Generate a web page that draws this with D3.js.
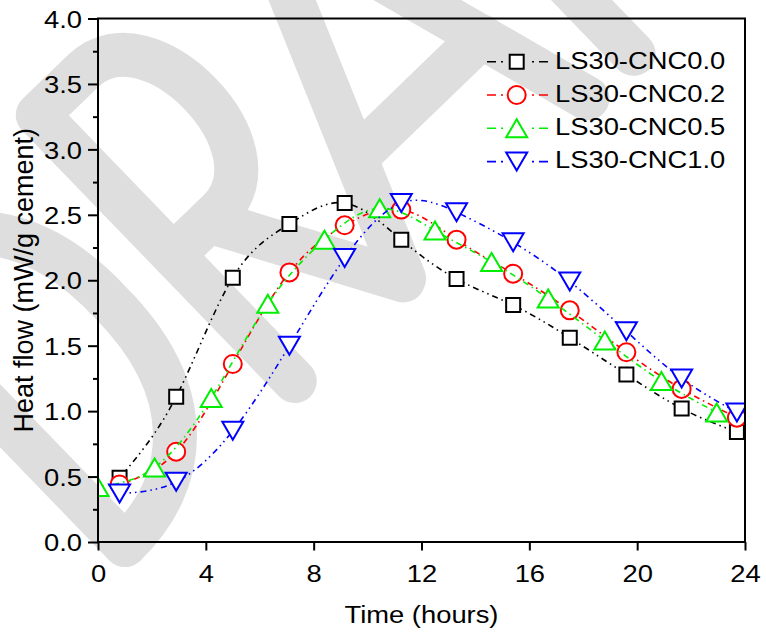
<!DOCTYPE html>
<html><head><meta charset="utf-8">
<script src="https://cdn.jsdelivr.net/npm/d3@7"></script>
<style>body{margin:0;background:#fff}</style>
</head><body>
<svg id="chart" width="766" height="635" xmlns="http://www.w3.org/2000/svg"></svg>
<script>
// ---------- data ----------
const seriesNames = ["LS30-CNC0.0", "LS30-CNC0.2", "LS30-CNC0.5", "LS30-CNC1.0"];
const timeSetA = [0.8, 2.9, 5.0, 7.1, 9.15, 11.25, 13.3, 15.4, 17.5, 19.6, 21.65, 23.7];
const timeSetB = [0.0, 2.1, 4.2, 6.3, 8.4, 10.45, 12.5, 14.6, 16.7, 18.8, 20.9, 22.95];
const heatCNC00 = [0.49, 1.11, 2.02, 2.43, 2.59, 2.31, 2.01, 1.81, 1.56, 1.28, 1.02, 0.84];
const heatCNC02 = [0.44, 0.69, 1.36, 2.06, 2.42, 2.54, 2.31, 2.05, 1.77, 1.45, 1.17, 0.95];
const heatCNC05 = [0.42, 0.57, 1.10, 1.82, 2.31, 2.55, 2.38, 2.14, 1.86, 1.54, 1.23, 0.99];
const heatCNC10 = [0.37, 0.46, 0.85, 1.50, 2.17, 2.59, 2.52, 2.29, 1.99, 1.61, 1.25, 0.99];
const xTicks = [0, 4, 8, 12, 16, 20, 24];
const yTicks = [0.0, 0.5, 1.0, 1.5, 2.0, 2.5, 3.0, 3.5, 4.0];
const yMinorTicks = [0.25, 0.75, 1.25, 1.75, 2.25, 2.75, 3.25, 3.75];
const xTitle = "Time (hours)";
const yTitle = "Heat flow (mW/g cement)";

// ---------- styles ----------
const colors = ["#000000", "#ff0000", "#00ee00", "#0000ff"];
const symbols = ["square", "circle", "triangleUp", "triangleDown"];
const dashes = ["6,4,1.5,4,1.5,4", "6,4,1.5,4", "6,4,1.5,4", "6,4,1.5,4,1.5,4"];
const FONT = "'Liberation Sans', Arial, Helvetica, sans-serif";
const SX = 1.14;

const seriesData = [
  timeSetA.map((t, i) => [t, heatCNC00[i]]),
  timeSetA.map((t, i) => [t, heatCNC02[i]]),
  timeSetB.map((t, i) => [t, heatCNC05[i]]),
  timeSetA.map((t, i) => [t, heatCNC10[i]])
];

const svg = d3.select("#chart");
const L = 98, R = 745, T = 18.5, B = 542;
const x = d3.scaleLinear().domain([0, 24]).range([L, R]);
const y = d3.scaleLinear().domain([0, 4]).range([B, T]);

svg.append("rect").attr("width", 766).attr("height", 635).attr("fill", "#fff");

// ---------- watermark (decorative) ----------
const wm = svg.append("g")
  .attr("transform", "translate(125,545) rotate(-44)")
  .attr("fill", "none").attr("stroke", "#dedede").attr("stroke-width", 44)
  .attr("stroke-linecap", "round").attr("stroke-linejoin", "round");
[
  "M0,0 L0,-370",
  "M0,-370 C90,-370 160,-310 158,-185 C160,-60 90,0 0,0",
  "M236,0 L236,-370 L300,-370 C390,-370 390,-175 300,-175 L236,-175",
  "M285,-175 L384,3",
  "M386,2 L537,-370 L643,0",
  "M450,-118 L610,-118",
  "M707,0 L707,-370 L890,-370",
  "M707,-190 L860,-190",
  "M930,-370 L1150,-370 M1040,-370 L1040,0"
].forEach(d => wm.append("path").attr("d", d));

// ---------- symbols ----------
function drawSymbol(g, type, cx, cy, color) {
  const s = g.append("path").attr("fill", "#fff").attr("stroke", color)
    .attr("stroke-width", 2).attr("stroke-linejoin", "miter");
  if (type === "square") {
    s.attr("d", `M${cx-7},${cy-7}h14v14h-14z`);
  } else if (type === "circle") {
    s.attr("d", `M${cx-9},${cy}a9,9 0 1,0 18,0a9,9 0 1,0 -18,0z`);
  } else if (type === "triangleUp") {
    s.attr("d", `M${cx},${cy-9} L${cx+10.5},${cy+9} L${cx-10.5},${cy+9}Z`);
  } else {
    s.attr("d", `M${cx},${cy+9} L${cx+10.5},${cy-9} L${cx-10.5},${cy-9}Z`);
  }
}

// ---------- axes ----------
const gx = svg.append("g").attr("transform", `translate(0,${B})`)
  .call(d3.axisBottom(x).tickValues(xTicks).tickSize(8.5).tickSizeOuter(0).tickFormat(d3.format("d")));
gx.select(".domain").remove();
gx.selectAll(".tick line").attr("stroke", "#000").attr("stroke-width", 2);
gx.selectAll(".tick text").attr("y", 40).attr("dy", null)
  .attr("font-family", FONT).attr("font-size", 24).attr("fill", "#000")
  .attr("transform", `scale(${SX},1)`);

const gy = svg.append("g").attr("transform", `translate(${L},0)`)
  .call(d3.axisLeft(y).tickValues(yTicks).tickSize(10).tickSizeOuter(0).tickFormat(d3.format(".1f")));
gy.select(".domain").remove();
gy.selectAll(".tick line").attr("stroke", "#000").attr("stroke-width", 2);
gy.selectAll(".tick text").attr("x", -16 / SX).attr("dy", "0.36em")
  .attr("font-family", FONT).attr("font-size", 24).attr("fill", "#000")
  .attr("transform", `scale(${SX},1)`);

const gym = svg.append("g").attr("transform", `translate(${L},0)`)
  .call(d3.axisLeft(y).tickValues(yMinorTicks).tickSize(5).tickSizeOuter(0).tickFormat(""));
gym.select(".domain").remove();
gym.selectAll(".tick line").attr("stroke", "#000").attr("stroke-width", 2);

// ---------- series ----------
svg.append("clipPath").attr("id", "plotclip")
  .append("rect").attr("x", L).attr("y", T).attr("width", R - L).attr("height", B - T);
const plot = svg.append("g").attr("clip-path", "url(#plotclip)");
const line = d3.line().x(d => x(d[0])).y(d => y(d[1])).curve(d3.curveNatural);

seriesData.forEach((pts, i) => {
  plot.append("path").datum(pts).attr("d", line)
    .attr("fill", "none").attr("stroke", colors[i]).attr("stroke-width", 1.6)
    .attr("stroke-dasharray", dashes[i]);
  const mg = plot.append("g");
  pts.forEach(p => drawSymbol(mg, symbols[i], x(p[0]), y(p[1]), colors[i]));
});

// ---------- frame ----------
svg.append("rect").attr("x", L).attr("y", T).attr("width", R - L).attr("height", B - T)
  .attr("fill", "none").attr("stroke", "#000").attr("stroke-width", 2);

// ---------- titles ----------
svg.append("text").attr("transform", `translate(${(L + R) / 2},623) scale(${SX},1)`)
  .attr("text-anchor", "middle").attr("font-family", FONT).attr("font-size", 24)
  .text(xTitle);
svg.append("text").attr("transform", `translate(33,${(T + B) / 2}) rotate(-90)`)
  .attr("text-anchor", "middle").attr("font-family", FONT).attr("font-size", 27)
  .text(yTitle);

// ---------- legend ----------
const legend = svg.append("g");
seriesNames.forEach((name, i) => {
  const cy = 61.7 + i * 33.3;
  const g = legend.append("g");
  g.append("line").attr("x1", 487).attr("x2", 508).attr("y1", cy).attr("y2", cy)
    .attr("stroke", colors[i]).attr("stroke-width", 1.6).attr("stroke-dasharray", "9,5,2,20");
  g.append("line").attr("x1", 548).attr("x2", 526).attr("y1", cy).attr("y2", cy)
    .attr("stroke", colors[i]).attr("stroke-width", 1.6).attr("stroke-dasharray", "9,5,2,20");
  drawSymbol(g, symbols[i], 516.7, cy, colors[i]);
  g.append("text").attr("transform", `translate(555,${cy + 6.8}) scale(${SX},1)`)
    .attr("font-family", FONT).attr("font-size", 24).attr("fill", "#000").text(name);
});
</script>
</body></html>
